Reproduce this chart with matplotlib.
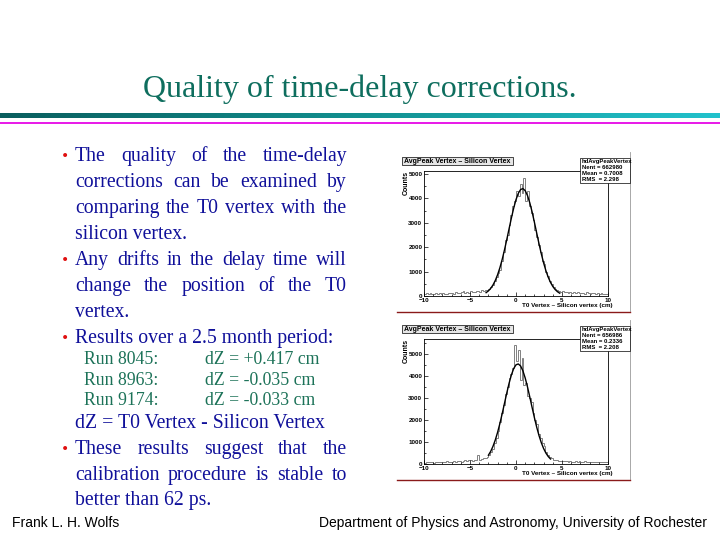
import numpy as np
import matplotlib
matplotlib.use("Agg")
import matplotlib.pyplot as plt
from matplotlib.patches import Rectangle

# ---- histogram data (bin width 0.2 cm, -10 .. 10) ----
bin_edges = np.linspace(-10, 10, 101)

run1_counts = [
    80, 120, 90, 110, 70, 100, 130, 90, 110, 80,
    120, 100, 90, 140, 110, 130, 100, 150, 120, 110,
    160, 200, 140, 180, 130, 210, 170, 150, 190, 220,
    180, 250, 200, 230,
    260, 290, 350, 470, 600, 780, 950, 1050, 1450, 1800,
    2300, 2500, 2900, 3300, 3700, 3900, 4300, 4100, 4600, 4200,
    4850, 3900, 4300, 3700, 3400, 3100, 2700, 2400, 2100, 1800,
    1450, 1300, 1000, 800, 600, 480, 380, 300, 230, 200, 170,
    190, 150, 180, 140, 170, 130, 160, 120, 150, 110,
    140, 130, 100, 150, 120, 90, 130, 110, 100, 120,
    90, 110, 80, 100, 90,
]
run2_counts = [
    60, 90, 70, 100, 80, 60, 90, 110, 70, 80,
    100, 90, 120, 80, 110, 90, 130, 100, 120, 150,
    110, 140, 170, 130, 160, 190, 150, 200, 180, 430,
    170, 230, 250, 280,
    330, 420, 560, 700, 950, 1200, 1500, 1900, 2300, 2700,
    3200, 3500, 3900, 4100, 4350, 5400, 4700, 5200, 3800, 4800,
    3600, 3700, 3100, 3000, 2800, 2300, 2000, 1800, 1350, 1200,
    950, 800, 550, 400, 300, 250, 200, 180, 160, 150, 140,
    130, 120, 150, 100, 140, 110, 90, 130, 100, 120,
    80, 110, 150, 90, 100, 80, 110, 90, 70, 100,
    80, 90, 110, 70, 80,
]

# gaussian fit curves
fit1_x = [-3.25, -3.0, -2.75, -2.5, -2.25, -2.0, -1.75, -1.5, -1.25, -1.0, -0.75,
          -0.5, -0.25, 0.0, 0.25, 0.5, 0.75, 1.0, 1.25, 1.5, 1.75, 2.0, 2.25,
          2.5, 2.75, 3.0, 3.25, 3.5, 3.75, 4.0, 4.25, 4.5, 4.75]
fit1_y = [137, 210, 312, 452, 636, 871, 1159, 1500, 1890, 2315, 2758,
          3195, 3601, 3946, 4206, 4361, 4400, 4313, 4114, 3816, 3444, 3022, 2579,
          2141, 1729, 1358, 1037, 771, 557, 391, 267, 178, 115]
fit2_x = [-3.0, -2.75, -2.5, -2.25, -2.0, -1.75, -1.5, -1.25, -1.0, -0.75, -0.5,
          -0.25, 0.0, 0.25, 0.5, 0.75, 1.0, 1.25, 1.5, 1.75, 2.0, 2.25, 2.5,
          2.75, 3.0, 3.25, 3.5, 3.75]
fit2_y = [399, 574, 804, 1092, 1439, 1842, 2288, 2760, 3231, 3671, 4050,
          4336, 4507, 4547, 4454, 4234, 3907, 3501, 3044, 2570, 2106, 1675, 1293,
          969, 705, 498, 341, 227]

stats1 = ["hdAvgPeakVertex", "Nent = 662980", "Mean = 0.7008", "RMS  = 2.298"]
stats2 = ["hdAvgPeakVertex", "Nent = 656986", "Mean = 0.2336", "RMS  = 2.208"]
hist_title = "AvgPeak Vertex \u2013 Silicon Vertex"
x_title = "T0 Vertex \u2013 Silicon vertex (cm)"

# ---- slide text ----
title = "Quality of time-delay corrections."
bullets = [
    [("The quality of the time-delay", True),
     ("corrections can be examined by", True),
     ("comparing the T0 vertex with the", True),
     ("silicon vertex.", False)],
    [("Any drifts in the delay time will", True),
     ("change the position of the T0", True),
     ("vertex.", False)],
    [("Results over a 2.5 month period:", False)],
]
runs = ["Run 8045:", "Run 8963:", "Run 9174:"]
dz_values = ["dZ = +0.417 cm", "dZ = -0.035 cm", "dZ = -0.033 cm"]
dz_def = "dZ = T0 Vertex - Silicon Vertex"
last_bullet = [("These results suggest that the", True),
               ("calibration procedure is stable to", True),
               ("better than 62 ps.", False)]
footer_left = "Frank L. H. Wolfs"
footer_right = "Department of Physics and Astronomy, University of Rochester"

BLUE = "#10109a"
GREEN = "#1c7258"
TEAL = "#0e6e5e"
SERIF = "Liberation Serif"
SANS = "Liberation Sans"

fig = plt.figure(figsize=(7.2, 5.4), dpi=100)
fig.patch.set_facecolor("white")


def hist_panel(top_px, counts, fx, fy, ytop):
    ax = fig.add_axes([424 / 720, (540 - top_px - 125) / 540, 184 / 720, 125 / 540])
    ax.stairs(counts, bin_edges, color="#808080", lw=0.7)
    ax.plot(fx, fy, color="black", lw=1.0)
    ax.set_xlim(-10, 10)
    ax.set_ylim(0, ytop)
    ax.set_xticks([-10, -5, 0, 5, 10])
    ax.set_xticks(np.arange(-10, 11, 1), minor=True)
    ax.set_yticks(np.arange(0, 6000, 1000))
    ax.set_yticks(np.arange(0, ytop, 500), minor=True)
    ax.tick_params(direction="in", length=3, width=0.5, labelsize=4.5, pad=1.2)
    ax.tick_params(which="minor", direction="in", length=1.5, width=0.5)
    for lab in ax.get_xticklabels() + ax.get_yticklabels():
        lab.set_fontweight("bold")
        lab.set_fontfamily(SANS)
    for sp in ax.spines.values():
        sp.set_linewidth(0.6)
    return ax


hist_panel(171, run1_counts, fit1_x, fit1_y, 5120)
hist_panel(339, run2_counts, fit2_x, fit2_y, 5680)

# overlay in pixel coordinates
ov = fig.add_axes([0, 0, 1, 1], zorder=5)
ov.patch.set_alpha(0)

# title and header bars
ov.text(360, 96.7, title, ha="center", va="baseline", fontsize=23,
        family=SERIF, color=TEAL)
grad = np.linspace(0, 1, 256).reshape(1, -1)
cmap = matplotlib.colors.LinearSegmentedColormap.from_list(
    "bar", ["#0a5e5e", "#129090", "#22c2cc"])
ov.imshow(grad, extent=[0, 720, 118.3, 113.3], aspect="auto", cmap=cmap)
ov.add_patch(Rectangle((0, 121.8), 720, 2.4, color="#e81ee8", lw=0))
ov.set_xlim(0, 720)
ov.set_ylim(540, 0)
ov.axis("off")

renderer = fig.canvas.get_renderer()
X0, X1 = 75, 347
BODY = 14.2


def put_line(text, y, justify, size=BODY, color=BLUE, x0=X0):
    if not justify:
        ov.text(x0, y, text, fontsize=size, family=SERIF, color=color, va="baseline")
        return
    words = text.split()
    arts = [ov.text(0, y, w, fontsize=size, family=SERIF, color=color, va="baseline")
            for w in words]
    widths = [a.get_window_extent(renderer).width for a in arts]
    gap = (X1 - x0 - sum(widths)) / (len(words) - 1)
    x = x0
    for a, w in zip(arts, widths):
        a.set_x(x)
        x += w + gap


def bullet(y):
    ov.text(61, y - 1, "\u2022", fontsize=10, color="#e01010", va="baseline",
            family="DejaVu Sans")


y = 160.7
step = 26.0
for lines in bullets:
    bullet(y)
    for txt, just in lines:
        put_line(txt, y, just)
        y += step

ry = 364.5
for r, d in zip(runs, dz_values):
    ov.text(84, ry, r, fontsize=12.8, family=SERIF, color=GREEN, va="baseline")
    ov.text(205, ry, d, fontsize=12.8, family=SERIF, color=GREEN, va="baseline")
    ry += 20.3
put_line(dz_def, 428.3, False)

y = 454.3
bullet(y)
for txt, just in last_bullet:
    put_line(txt, y, just)
    y += 25.5

ov.text(12, 527, footer_left, fontsize=10, family=SANS, va="baseline")
ov.text(707, 527, footer_right, fontsize=10, family=SANS, va="baseline", ha="right")

# ROOT canvas decorations
for top, stats in [(152, stats1), (320, stats2)]:
    ov.plot([630, 630], [top, top + 159], color="#9a9a9a", lw=0.6)
    ov.plot([397, 630], [top + 159.5, top + 159.5], color="#8a1a1a", lw=1.0)
    ov.add_patch(Rectangle((402, top + 5), 111, 8, facecolor="#e6e6e6",
                           edgecolor="black", lw=0.5, zorder=6))
    ov.text(457.5, top + 9.2, hist_title, ha="center", va="center", fontsize=5,
            fontweight="bold", family=SANS, zorder=7)
    box = Rectangle((580, top + 6), 50, 25, facecolor="white", edgecolor="black",
                    lw=0.5, zorder=6)
    ov.add_patch(box)
    for i, s in enumerate(stats):
        t = ov.text(582, top + 9.5 + 6 * i, s, fontsize=4.3, family=SANS,
                    fontweight="bold", va="center", zorder=7)
        t.set_clip_path(box)
    ov.text(406.5, top + 19, "Counts", rotation=90, ha="center", va="top",
            fontsize=5, fontweight="bold", family=SANS)
    ov.text(613, top + 154, x_title, ha="right", va="center", fontsize=4.5,
            fontweight="bold", family=SANS)

fig.savefig("out.png", dpi=100)
